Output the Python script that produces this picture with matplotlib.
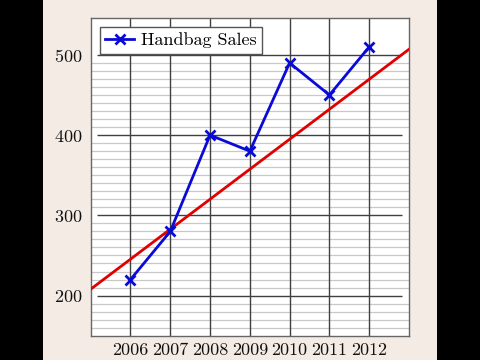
import matplotlib
matplotlib.use('Agg')
import matplotlib.pyplot as plt
from matplotlib.patches import Rectangle

# data
years = [2006, 2007, 2008, 2009, 2010, 2011, 2012]
sales = [220, 280, 400, 380, 490, 450, 510]
trend_years = [2005, 2013]
trend_values = [208, 507]
y_major = [200, 300, 400, 500]
y_minor = [v for v in range(160, 500, 10) if v not in y_major]

plt.rcParams['font.family'] = ['cmr10', 'DejaVu Serif']
plt.rcParams['axes.formatter.use_mathtext'] = True

W, H = 480, 360
fig = plt.figure(figsize=(W / 100, H / 100), dpi=100, facecolor='black')
fig.patches.append(Rectangle((43 / W, 0), (437 - 43) / W, 1, transform=fig.transFigure,
                             facecolor='#f3ebe4', edgecolor='none', zorder=-10))

left, right, top, bottom = 90.7, 409, 18, 335.7
ax = fig.add_axes([left / W, (H - bottom) / H, (right - left) / W, (bottom - top) / H])
ax.set_facecolor('white')
ax.set_xlim(2005, 2013)
ax.set_ylim(150, 546)

# grid
for v in y_minor:
    ax.axhline(v, color='#c8c8c8', lw=0.9, zorder=1)
ax.hlines(y_major, 2005.17, 2012.82, color='#404040', lw=1.0, zorder=1)
for x in years:
    ax.axvline(x, color='#404040', lw=1.0, zorder=1)

ax.plot(trend_years, trend_values, color='#e00000', lw=2.0, zorder=3)
ax.plot(years, sales, color='#0a0ad8', lw=2.0, marker='x', ms=7, mew=2.0,
        zorder=4, label='Handbag Sales')

ax.set_xticks(years)
ax.set_xticklabels([str(y) for y in years])
ax.set_yticks(y_major)
ax.tick_params(length=0, labelsize=13, colors='#111111')
ax.tick_params(axis='x', pad=5)
ax.tick_params(axis='y', pad=6)
for s in ax.spines.values():
    s.set_color('#666666')
    s.set_linewidth(1.0)

leg = ax.legend(loc='upper left', bbox_to_anchor=(0.029, 0.971), fontsize=13,
                frameon=True, fancybox=False, handlelength=1.6, borderpad=0.3,
                handletextpad=0.35, borderaxespad=0)
leg.get_frame().set_edgecolor('#555555')
leg.get_frame().set_linewidth(1.0)
leg.get_frame().set_alpha(1)

fig.savefig('out.png', dpi=100, facecolor=fig.get_facecolor())
